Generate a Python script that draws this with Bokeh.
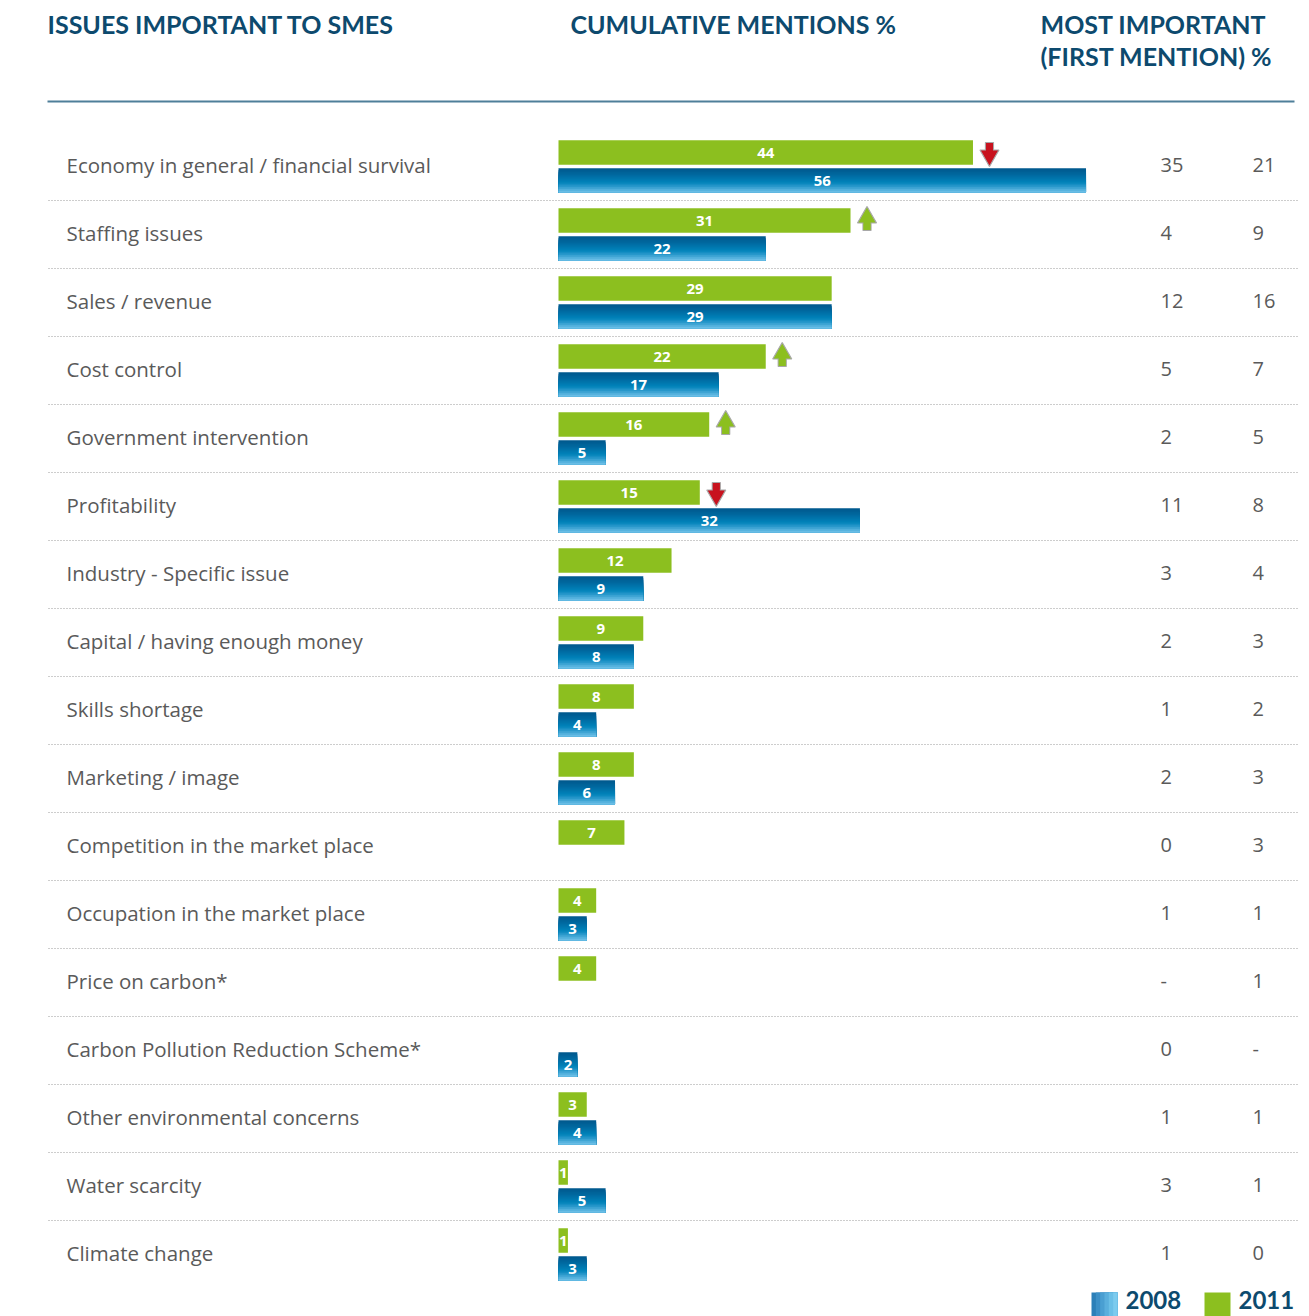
from bokeh.plotting import figure
from bokeh.models import Range1d, ColumnDataSource
from bokeh.core.properties import value
from bokeh.embed import file_html
from bokeh.resources import INLINE

# ---------------- data ----------------
issues = [
    "Economy in general / financial survival",
    "Staffing issues",
    "Sales / revenue",
    "Cost control",
    "Government intervention",
    "Profitability",
    "Industry - Specific issue",
    "Capital / having enough money",
    "Skills shortage",
    "Marketing / image",
    "Competition in the market place",
    "Occupation in the market place",
    "Price on carbon*",
    "Carbon Pollution Reduction Scheme*",
    "Other environmental concerns",
    "Water scarcity",
    "Climate change",
]
cum_2011 = [44, 31, 29, 22, 16, 15, 12, 9, 8, 8, 7, 4, 4, None, 3, 1, 1]
cum_2008 = [56, 22, 29, 17, 5, 32, 9, 8, 4, 6, None, 3, None, 2, 4, 5, 3]
trend = ["down", "up", None, "up", "up", "down", None, None, None, None,
         None, None, None, None, None, None, None]
first_2008 = ["35", "4", "12", "5", "2", "11", "3", "2", "1", "2", "0", "1", "-", "0", "1", "3", "1"]
first_2011 = ["21", "9", "16", "7", "5", "8", "4", "3", "2", "3", "3", "1", "1", "-", "1", "1", "0"]
legend_years = ["2008", "2011"]

# ---------------- styles ----------------
NAVY = "#0d4a6e"
GREEN = "#8cbf1f"
RED = "#c8121e"
GREY_TXT = "#5a5a5a"
W, H = 1309, 1316
PX = 9.42      # pixels per percentage point
X0 = 558       # pixel position of value 0
ROW0, RH = 166, 68

p = figure(width=W, height=H, x_range=Range1d(0, W), y_range=Range1d(H, 0),
           output_backend="svg", toolbar_location=None, min_border=0,
           x_axis_type=None, y_axis_type=None)
p.grid.visible = False
p.outline_line_color = None
p.background_fill_color = "white"
p.extra_x_ranges = {"val": Range1d((0 - X0) / PX, (W - X0) / PX)}
p.extra_y_ranges = {"rows": Range1d((H - ROW0) / RH, (0 - ROW0) / RH)}

HEAD_FONT = value("Lato")
hdr = dict(text_font=HEAD_FONT, text_font_style="bold", text_font_size="25px",
           text_color=NAVY, text_baseline="middle")
p.text(x=[47], y=[23], text=["ISSUES IMPORTANT TO SMES"], **hdr)
p.text(x=[570], y=[23], text=["CUMULATIVE MENTIONS %"], **hdr)
p.text(x=[1040], y=[23], text=["MOST IMPORTANT"], **hdr)
p.text(x=[1040], y=[55], text=["(FIRST MENTION) %"], **hdr)
p.segment(x0=[47], x1=[1294], y0=[101], y1=[101], line_color="#4f7f99", line_width=2)

n = len(issues)
rows = list(range(n))

# separators
p.segment(x0=[48] * (n - 1), x1=[1297] * (n - 1), y0=[i + 0.5 for i in range(n - 1)],
          y1=[i + 0.5 for i in range(n - 1)], y_range_name="rows",
          line_color="#9a9a9a", line_width=1, line_dash="1 2")

# row labels
p.text(x=[66] * n, y=rows, text=issues, y_range_name="rows", text_baseline="middle",
       y_offset=-2, text_font=value("Open Sans"), text_font_size="20.5px", text_color=GREY_TXT)

# first-mention columns
num = dict(y_range_name="rows", text_baseline="middle", text_font=value("Open Sans"),
           text_font_size="20px", text_color=GREY_TXT, text_align="left", y_offset=-2)
p.text(x=[1160] * n, y=rows, text=first_2008, **num)
p.text(x=[1252] * n, y=rows, text=first_2011, **num)

GOFF = -14 / RH
BOFF = 14 / RH
BH = 24.5 / RH

# green bars (2011)
gi = [i for i in rows if cum_2011[i] is not None]
gsrc = ColumnDataSource(dict(y=[i + GOFF for i in gi], right=[cum_2011[i] for i in gi],
                             mid=[cum_2011[i] / 2 for i in gi],
                             lab=[str(cum_2011[i]) for i in gi]))
p.hbar(y="y", left=0, right="right", height=BH, source=gsrc, x_range_name="val",
       y_range_name="rows", fill_color=GREEN, line_color=None)

# blue bars (2008): vertical gradient, each strip runs from its top to the bar bottom
bi = [i for i in rows if cum_2008[i] is not None]
grad = ["#005a8f", "#005f95", "#00659b", "#006ba2", "#0072a9", "#0079b0", "#0080b7",
        "#0a88be", "#2294c8", "#3aa2d2", "#52b0dc", "#69bde5"]
ns = len(grad)
sh = BH / ns
for k, c in enumerate(grad):
    top_off = -BH / 2 + sh * k
    hh = BH - sh * k
    ys = [i + BOFF + top_off + hh / 2 for i in bi]
    p.hbar(y=ys, left=0, right=[cum_2008[i] for i in bi], height=hh,
           x_range_name="val", y_range_name="rows", fill_color=c, line_color=None)
bsrc = ColumnDataSource(dict(y=[i + BOFF for i in bi], mid=[cum_2008[i] / 2 for i in bi],
                             lab=[str(cum_2008[i]) for i in bi]))

lab = dict(x_range_name="val", y_range_name="rows", text_align="center",
           text_baseline="middle", text_font=value("Open Sans"), text_font_style="bold",
           text_font_size="15px", text_color="white")
p.text(x="mid", y="y", text="lab", source=gsrc, **lab)
p.text(x="mid", y="y", text="lab", source=bsrc, **lab)

# trend arrows
for i in rows:
    t = trend[i]
    if t is None:
        continue
    ax = cum_2011[i] + 1.75
    yc = i + GOFF
    col = RED if t == "down" else GREEN
    if t == "down":
        shaft_y, head_y, marker = yc - 4 / RH, yc + 3 / RH, "inverted_triangle"
    else:
        shaft_y, head_y, marker = yc + 4 / RH, yc - 3 / RH, "triangle"
    p.rect(x=[ax], y=[shaft_y], width=8, height=12, width_units="screen",
           height_units="screen", x_range_name="val", y_range_name="rows",
           fill_color=col, line_color="#a8a8a8", line_width=1.2)
    p.scatter(x=[ax], y=[head_y], marker=marker, size=19, x_range_name="val",
              y_range_name="rows", fill_color=col, line_color="#a8a8a8", line_width=1.2)
    p.rect(x=[ax], y=[shaft_y], width=7, height=11, width_units="screen",
           height_units="screen", x_range_name="val", y_range_name="rows",
           fill_color=col, line_color=None)

# legend
lblue = ["#2b7fb8", "#3b8fc6", "#4a9fd2", "#5aafdd", "#6bbfe7", "#7ccbee"]
lw = 26 / len(lblue)
for k, c in enumerate(lblue):
    p.quad(left=[1091 + lw * k], right=[1117], top=[1292], bottom=[1320],
           fill_color=c, line_color=None)
p.quad(left=[1204], right=[1230], top=[1292], bottom=[1320], fill_color=GREEN, line_color=None)
leg = dict(text_font=HEAD_FONT, text_font_style="bold", text_font_size="24px",
           text_color=NAVY, text_baseline="middle")
p.text(x=[1125], y=[1299], text=[legend_years[0]], **leg)
p.text(x=[1238], y=[1299], text=[legend_years[1]], **leg)

open("out.html", "w").write(file_html(p, INLINE))
